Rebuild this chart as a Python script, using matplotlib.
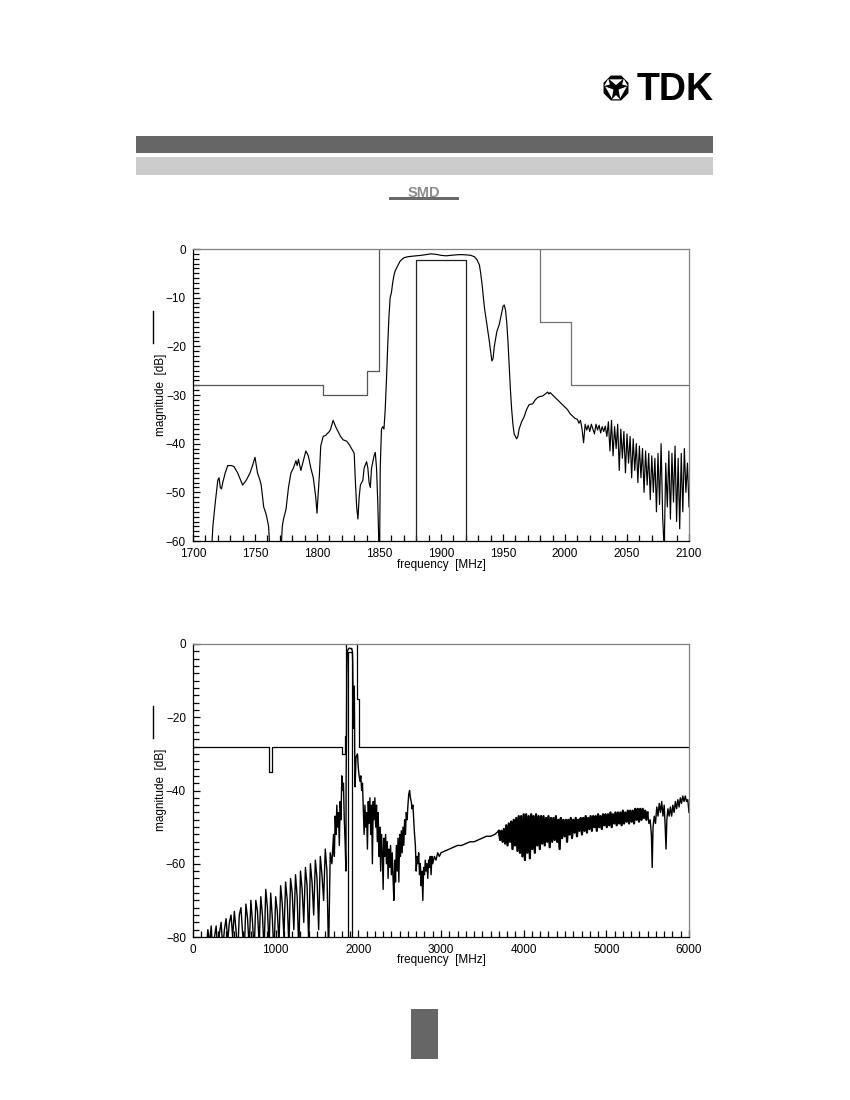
import numpy as np
import matplotlib
matplotlib.use("Agg")
import matplotlib.pyplot as plt
from matplotlib.patches import Rectangle, Polygon
from matplotlib.ticker import MultipleLocator

plt.rcParams['font.family'] = ['Liberation Sans', 'DejaVu Sans']

# ---------------- DATA ----------------
# Top chart: passband detail (MHz, dB)
top_freq = [1715, 1716, 1718, 1720, 1721, 1722, 1723, 1724, 1726, 1728, 1731, 1733, 1736, 1740, 1743,
            1746, 1748, 1750, 1752, 1754, 1755, 1757, 1759, 1761, 1762, 1766,
            1771, 1772, 1773, 1775, 1777, 1779, 1781, 1783, 1784, 1785, 1787, 1789, 1791, 1793, 1795,
            1797, 1799, 1800, 1801, 1802, 1803, 1805, 1807, 1808, 1810, 1811, 1813, 1815, 1817, 1819,
            1821, 1824, 1826, 1829, 1830, 1831, 1832, 1833, 1834, 1835, 1837, 1838, 1840, 1841, 1842,
            1843, 1844, 1846, 1847, 1848, 1849, 1850, 1850.5, 1851, 1852, 1853, 1854, 1855, 1856, 1857,
            1858, 1859, 1860, 1861, 1862, 1863, 1865, 1867, 1870, 1873, 1876, 1880, 1884, 1888, 1892,
            1896, 1900, 1904, 1908, 1912, 1916, 1920, 1924, 1927, 1929, 1931, 1932, 1933, 1934, 1935,
            1937, 1939, 1940, 1941, 1942, 1943, 1945, 1947, 1949, 1950, 1951, 1952, 1953, 1954, 1955,
            1956, 1957, 1958, 1959, 1960, 1961, 1962, 1963, 1965, 1967, 1969, 1971, 1974, 1976, 1978,
            1980, 1982, 1984, 1986, 1987, 1988, 1990, 1992, 1994, 1996, 1998, 2000, 2002, 2004, 2006,
            2008]
top_mag = [-62, -57, -52, -47.5, -47, -49, -49.3, -48, -46, -44.5, -44.5, -44.7, -46, -48.5, -47.5,
           -46, -44.5, -42.8, -46, -47.5, -48.5, -53, -54.5, -57, -62, np.nan,
           -62, -57, -55.5, -53.5, -49, -46, -45, -43.5, -44.5, -43.2, -45.5, -43.5, -41.5, -42.5, -45,
           -47, -51, -54.3, -50, -46, -40.5, -38.5, -38.3, -38, -37.5, -37, -35.2, -36.5, -37.5, -38.5,
           -39.2, -39.5, -40.2, -41.5, -42, -48, -53, -55.5, -51, -48.5, -47.5, -45, -43.7, -45, -48,
           -49, -45, -42.5, -41.8, -45, -52, -62, -62, -45, -37, -36.5, -37, -33, -27, -20,
           -14, -10, -9, -7, -5.5, -4.5, -3.5, -2.5, -1.8, -1.6, -1.5, -1.4, -1.3, -1.15, -1.0,
           -1.1, -1.3, -1.4, -1.3, -1.2, -1.15, -1.2, -1.3, -1.6, -2.2, -3.3, -5, -7, -9.5, -12,
           -15.5, -19, -21, -23, -22.5, -20, -17, -15.5, -13, -11.8, -11.5, -12.5, -15, -19, -24,
           -29, -33, -36, -38, -38.5, -39, -38.5, -37, -35.5, -34.5, -33, -32, -31.8, -31, -30.5,
           -30.3, -30.2, -29.8, -29.4, -29.8, -29.5, -30, -30.5, -31, -31.5, -32, -32.5, -33, -33.8, -34.3,
           -34.8]
# Noisy tail of top chart, sweep 2010..2100 MHz in 1.25 MHz steps
top_tail_start, top_tail_step = 2010.0, 1.25
top_tail_mag = [-35.0, -35.8, -35.2, -37.0, -39.8, -36.0, -37.2, -36.2, -37.5, -36.0, -37.0, -38.0,
                -36.0, -37.2, -36.2, -37.8, -36.5, -37.5, -36.4, -38.5, -35.5, -41.5, -35.2, -42.5,
                -36.5, -41.0, -36.0, -45.5, -37.0, -43.0, -37.5, -46.0, -38.0, -44.0, -38.5, -47.0,
                -39.0, -45.5, -40.0, -48.0, -40.5, -47.0, -41.0, -50.0, -41.5, -48.5, -42.0, -51.5,
                -42.5, -50.0, -43.0, -54.0, -42.0, -52.5, -40.0, -55.0, -62.0, -44.0, -53.0, -41.5,
                -55.5, -42.0, -52.0, -40.5, -56.0, -43.0, -57.5, -42.0, -54.0, -41.0, -50.0, -44.0,
                -53.0]

# Tolerance mask (MHz, dB)
mask_freq = [1700, 1805, 1805, 1840, 1840, 1850, 1850]
mask_mag = [-28, -28, -30, -30, -25, -25, 0]
mask2_freq = [1980, 1980, 2005, 2005, 6000]
mask2_mag = [0, -15, -15, -28, -28]
mask_low_freq = [0, 925, 925, 960, 960, 1700]
mask_low_mag = [-28, -28, -35, -35, -28, -28]
pass_freq = [1880, 1880, 1920, 1920]
pass_mag = [-90, -2.2, -2.2, -90]

# Bottom chart: wideband sweep
bot_a_start, bot_a_step = 160, 20
bot_a_mag = [-84, -78, -82, -77, -85, -80, -77, -84, -79, -76, -83, -78, -75, -81, -76, -74, -80,
             -73, -78, -85, -74, -72, -79, -84, -71, -75, -83, -70, -76, -84, -70, -73, -82, -69,
             -74, -84, -67, -72, -83, -68, -75, -85, -69, -73, -82, -66, -71, -80, -65, -70, -83,
             -64, -68, -78, -63, -69, -84, -62, -67, -76, -61, -66, -82, -60, -65, -74, -59, -64,
             -78, -58, -63, -70, -56, -62, -85, -57, -60, -52]
bot_b_freq = [1710, 1720, 1730, 1740, 1750, 1760, 1770, 1780, 1790, 1800, 1810, 1820, 1830, 1840,
              1850, 1852, 1856, 1860, 1865, 1870, 1880, 1890, 1900, 1910, 1920, 1928, 1932, 1936,
              1941, 1946, 1951, 1954, 1957, 1961, 1966, 1972, 1980, 1990, 2000, 2010, 2020, 2030,
              2040, 2050]
bot_b_mag = [-58, -47, -52, -44, -50, -46, -55, -43, -48, -36, -40, -38, -48, -54,
             -62, -37, -27, -9, -3.5, -1.8, -1.4, -1.1, -1.2, -1.3, -1.2, -2, -5, -14,
             -23, -16, -11.5, -19, -33, -39, -35, -31, -30.5, -30, -34, -36, -37.5, -36,
             -40, -38]
bot_c_start, bot_c_step = 2060, 10
bot_c_mag = [-45, -52, -44, -50, -46, -56, -43, -49, -42, -52, -44, -60, -43, -48, -42, -50, -44,
             -54, -46, -58, -50, -62, -52, -57, -67, -53, -58, -52, -60, -54, -64, -56, -61, -55,
             -63, -57, -64, -70, -59, -65, -55, -62, -53, -65, -52, -58, -51, -57, -50, -55, -48,
             -52, -46, -48, -44, -41, -40, -42, -43, -45, -44, -48, -52, -55, -62, -58, -60, -57,
             -63, -60, -66, -62, -70, -61, -63, -59, -62, -60, -64, -59, -61, -58, -63, -58, -60]
bot_d_freq = [2920, 2940, 2960, 2980, 3000, 3050, 3100, 3150, 3200, 3250, 3300, 3350, 3400, 3450,
              3500, 3550, 3600, 3650]
bot_d_mag = [-58, -59, -57, -58, -57, -56.5, -56, -55.5, -55, -55, -54.5, -54, -54, -53.5,
             -53, -52.5, -52.5, -52]
bot_e_start, bot_e_step = 3700, 15
bot_e_mag = [-51, -53.5, -51, -54, -50.5, -54.5, -49.5, -55, -49, -54, -48.5, -56, -48, -55, -47.5,
             -56.5, -47, -57, -47, -58, -46.5, -59, -46.5, -57, -47, -58.5, -46.5, -56, -47, -57,
             -46.5, -55, -47, -56, -47, -54.5, -47, -55, -47.5, -54, -47, -55.5, -47.5, -54, -47.5,
             -53.5, -47, -54, -48, -56, -47.5, -53, -48, -52.5, -48, -54, -48, -52, -47.5, -53,
             -48, -51.5, -47.5, -52.5, -48, -51, -47.5, -52, -47.5, -51, -47, -51.5, -47.5, -50.5,
             -47, -51, -47, -50, -47, -51, -46.5, -50, -47, -50.5, -46.5, -49.5, -46.5, -50, -46.5,
             -49.5, -46, -50, -46.5, -49, -46, -49.5, -46, -49, -46, -49.5, -45.5, -49, -46, -48.5,
             -45.5, -49, -45.5, -48.5, -45.5, -49, -45, -48, -45, -48.5, -45, -48, -45, -47.5, -45.5,
             -48, -46]
bot_f_freq = [5515, 5530, 5545, 5555, 5565, 5580, 5595, 5610, 5625, 5640, 5655, 5670, 5685, 5700,
              5712, 5722, 5732, 5745, 5760, 5775, 5790, 5805, 5820, 5835, 5850, 5865, 5880, 5895,
              5910, 5925, 5940, 5955, 5970, 5985, 6000]
bot_f_mag = [-49, -48, -52, -61, -50, -47, -49, -44.5, -47, -43.5, -46, -43, -47, -44,
             -50, -56, -48, -45, -47, -44.5, -47, -44, -46, -43, -45, -42.5, -44.5, -42,
             -43.5, -41.5, -43, -41.5, -43, -42.5, -46]

top_xticks = [1700, 1750, 1800, 1850, 1900, 1950, 2000, 2050, 2100]
top_yticks = [0, -10, -20, -30, -40, -50, -60]
bot_xticks = [0, 1000, 2000, 3000, 4000, 5000, 6000]
bot_yticks = [0, -20, -40, -60, -80]
xlabel = "frequency  [MHz]"
ylabel = "magnitude  [dB]"

# ---------------- FIGURE ----------------
W, H = 850, 1100
fig = plt.figure(figsize=(8.5, 11), dpi=100)
page = fig.add_axes([0, 0, 1, 1])
page.set_xlim(0, W)
page.set_ylim(H, 0)
page.axis('off')

# header bars
page.add_patch(Rectangle((136, 136), 577, 17, color='#666666', lw=0))
page.add_patch(Rectangle((136, 157), 577, 18, color='#cccccc', lw=0))
# TDK logo emblem
cx, cy, r = 616, 88, 13.5
ang = np.deg2rad(np.arange(0, 360, 45) + 22.5)
page.add_patch(Polygon(np.c_[cx + r * np.cos(ang), cy + r * np.sin(ang)], closed=True, color='black', lw=0))
for a0 in (90, 210, 330):
    a = np.deg2rad(np.array([a0, a0 + 38, a0 - 38]))
    rr = np.array([3.0, 11, 11])
    page.add_patch(Polygon(np.c_[cx + rr * np.cos(a), cy - rr * np.sin(a)], closed=True, color='white', lw=0))
for a0 in (30, 150, 270):
    a = np.deg2rad(np.array([a0, a0 + 20, a0 - 20]))
    rr = np.array([7.0, 12, 12])
    page.add_patch(Polygon(np.c_[cx + rr * np.cos(a), cy - rr * np.sin(a)], closed=True, color='white', lw=0))
page.text(714, 100.5, "TDK", ha='right', va='baseline', fontsize=27, fontweight='bold', color='black')
# SMD logo
page.text(424, 197, "SMD", ha='center', va='baseline', fontsize=10.5, fontweight='bold',
          color='#8c8c8c', fontstretch='expanded')
page.add_patch(Rectangle((389, 197), 70, 3.0, color='#6a6a6a', lw=0))
# page number box
page.add_patch(Rectangle((411, 1009), 27, 50, color='#666666', lw=0))


def style_axis(ax, xmin, ymin, xlim, ylim, xt, yt):
    ax.set_xlim(*xlim)
    ax.set_ylim(*ylim)
    ax.set_xticks(xt)
    ax.set_yticks(yt)
    ax.xaxis.set_minor_locator(MultipleLocator(xmin))
    ax.yaxis.set_minor_locator(MultipleLocator(ymin))
    ax.tick_params(which='both', direction='in', top=False, right=False, labelsize=8.5, width=0.9)
    ax.tick_params(which='major', length=5)
    ax.tick_params(which='minor', length=4)
    ax.tick_params(axis='x', which='major', pad=5)
    ax.tick_params(axis='y', which='major', pad=5)
    for s in ('top', 'right'):
        ax.spines[s].set_color('#808080')
        ax.spines[s].set_linewidth(0.9)
    for s in ('left', 'bottom'):
        ax.spines[s].set_color('black')
        ax.spines[s].set_linewidth(0.9)
    ax.set_facecolor('none')


def fpos(x0, y0, x1, y1):
    return [x0 / W, 1 - y1 / H, (x1 - x0) / W, (y1 - y0) / H]


# ---- top chart ----
ax1 = fig.add_axes(fpos(193, 249, 689, 541))
style_axis(ax1, 10, 1, (1700, 2100), (-60, 0), top_xticks, top_yticks)
tail_f = top_tail_start + top_tail_step * np.arange(len(top_tail_mag))
f1 = np.r_[top_freq, tail_f]
m1 = np.r_[top_mag, top_tail_mag]
ax1.plot(mask_low_freq + mask_freq, mask_low_mag + mask_mag, color='#555555', lw=0.9)
ax1.plot(mask2_freq, mask2_mag, color='#707070', lw=0.9)
ax1.plot(pass_freq, pass_mag, color='#202020', lw=0.9)
ax1.plot(f1, m1, color='black', lw=0.85)
page.text(441, 565, xlabel, ha='center', va='center', fontsize=8.5)
page.text(161, 395, ylabel, ha='center', va='center', fontsize=8.5, rotation=90)
page.plot([153, 153], [311, 343], color='black', lw=1)

# ---- bottom chart ----
ax2 = fig.add_axes(fpos(193, 644, 689, 937))
style_axis(ax2, 100, 2, (0, 6000), (-80, 0), bot_xticks, bot_yticks)
fa = bot_a_start + bot_a_step * np.arange(len(bot_a_mag))
fc = bot_c_start + bot_c_step * np.arange(len(bot_c_mag))
fe = bot_e_start + bot_e_step * np.arange(len(bot_e_mag))
f2 = np.r_[fa, bot_b_freq, fc, bot_d_freq, fe, bot_f_freq]
m2 = np.r_[bot_a_mag, bot_b_mag, bot_c_mag, bot_d_mag, bot_e_mag, bot_f_mag]
ax2.plot(mask_low_freq + mask_freq, mask_low_mag + mask_mag, color='black', lw=0.9)
ax2.plot(mask2_freq, mask2_mag, color='black', lw=0.9)
ax2.plot(pass_freq, pass_mag, color='black', lw=0.9)
ax2.plot(f2, m2, color='black', lw=1.0)
# the densely sampled band region is drawn a bit heavier, as in the reference scan
ax2.plot(fe, bot_e_mag, color='black', lw=1.6)
page.text(441, 960, xlabel, ha='center', va='center', fontsize=8.5)
page.text(161, 790, ylabel, ha='center', va='center', fontsize=8.5, rotation=90)
page.plot([153, 153], [706, 738], color='black', lw=1)

fig.savefig("out.png", dpi=100)
